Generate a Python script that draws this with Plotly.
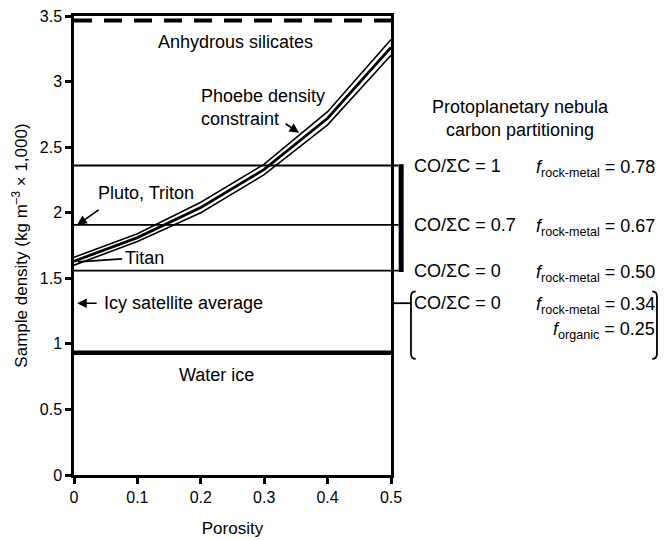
import plotly.graph_objects as go

# ---- data ----
porosity = [0, 0.1, 0.2, 0.3, 0.4, 0.5]
phoebe_upper = [1.66, 1.84, 2.08, 2.37, 2.77, 3.32]
phoebe_mid = [1.63, 1.81, 2.04, 2.33, 2.72, 3.26]
phoebe_lower = [1.60, 1.78, 2.00, 2.29, 2.67, 3.20]

anhydrous_silicates = 3.465
water_ice = 0.933
co_levels = [2.36, 1.907, 1.558]          # CO/ΣC = 1, 0.7, 0
icy_satellite_avg = 1.31
titan_density = 1.625

co_labels = ["CO/ΣC = 1", "CO/ΣC = 0.7", "CO/ΣC = 0"]
f_rock_labels = ["0.78", "0.67", "0.50"]
lower_co_label = "CO/ΣC = 0"
lower_f_rock = "0.34"
lower_f_org = "0.25"

xticks = [0, 0.1, 0.2, 0.3, 0.4, 0.5]
xticktext = ["0", "0.1", "0.2", "0.3", "0.4", "0.5"]
yticks = [0, 0.5, 1, 1.5, 2, 2.5, 3, 3.5]
yticktext = ["0", "0.5", "1", "1.5", "2", "2.5", "3", "3.5"]

FONT = "Liberation Sans, Arial, sans-serif"
AF = 18

fig = go.Figure()
for ys, w in [(phoebe_upper, 1.6), (phoebe_mid, 2.8), (phoebe_lower, 1.6)]:
    fig.add_trace(go.Scatter(x=porosity, y=ys, mode="lines",
                             line=dict(color="black", width=w), showlegend=False,
                             hoverinfo="skip"))

shapes = []
# anhydrous silicates dashed line
shapes.append(dict(type="line", xref="x", yref="y", x0=0, x1=0.5,
                   y0=anhydrous_silicates, y1=anhydrous_silicates,
                   line=dict(color="black", width=4, dash="18px,12px")))
# water ice
shapes.append(dict(type="line", xref="x", yref="y", x0=0, x1=0.5,
                   y0=water_ice, y1=water_ice, line=dict(color="black", width=4.5)))
# CO levels extend past the frame to the bar
for v in co_levels:
    shapes.append(dict(type="line", xref="paper", yref="y", x0=0, x1=1.024,
                       y0=v, y1=v, line=dict(color="black", width=1.8)))
shapes.append(dict(type="line", xref="paper", yref="y", x0=1.032, x1=1.032,
                   y0=co_levels[2] - 0.01, y1=co_levels[0] + 0.01,
                   line=dict(color="black", width=5)))
# icy satellite tick to bracket
shapes.append(dict(type="line", xref="paper", yref="y", x0=1.0, x1=1.063,
                   y0=icy_satellite_avg, y1=icy_satellite_avg,
                   line=dict(color="black", width=1.8)))
# brackets
shapes.append(dict(type="path", xref="paper", yref="y",
                   path="M 1.078,1.40 Q 1.063,1.40 1.063,1.36 L 1.063,0.925 Q 1.063,0.885 1.078,0.885",
                   line=dict(color="black", width=1.8)))
shapes.append(dict(type="path", xref="paper", yref="y",
                   path="M 1.824,1.40 Q 1.839,1.40 1.839,1.36 L 1.839,0.925 Q 1.839,0.885 1.824,0.885",
                   line=dict(color="black", width=1.8)))
# Titan leader
shapes.append(dict(type="line", xref="x", yref="y", x0=0.006, y0=titan_density,
                   x1=0.076, y1=1.648, line=dict(color="black", width=1.6)))

ann = []
def txt(x, y, t, xref="x", xanchor="left", size=AF, align="left"):
    ann.append(dict(x=x, y=y, xref=xref, yref="y", text=t, showarrow=False,
                    xanchor=xanchor, yanchor="middle", align=align,
                    font=dict(family=FONT, size=size, color="black")))

txt(0.255, 3.30, "Anhydrous silicates", xanchor="center")
txt(0.224, 0.763, "Water ice", xanchor="center")
txt(0.197, 2.80, "Phoebe density<br>constraint")
txt(0.035, 2.15, "Pluto, Triton")
txt(0.077, 1.655, "Titan")
txt(0.044, icy_satellite_avg, "Icy satellite average")
txt(1.407, 2.72, "Protoplanetary nebula<br>carbon partitioning", xref="paper",
    xanchor="center", align="center")

for lab, v, f in zip(co_labels, co_levels, f_rock_labels):
    txt(1.067, v, lab, xref="paper")
    txt(1.838, v - 0.02, "<i>f</i><sub>rock-metal</sub> = " + f, xref="paper", xanchor="right")
txt(1.067, icy_satellite_avg, lower_co_label, xref="paper")
txt(1.838, icy_satellite_avg - 0.02, "<i>f</i><sub>rock-metal</sub> = " + lower_f_rock,
    xref="paper", xanchor="right")
txt(1.838, 1.10, "<i>f</i><sub>organic</sub> = " + lower_f_org, xref="paper", xanchor="right")

# arrows
def arrow(x, y, ax, ay):
    ann.append(dict(x=x, y=y, xref="x", yref="y", ax=ax, ay=ay, text="",
                    showarrow=True, arrowhead=2, arrowsize=1.2, arrowwidth=1.6,
                    arrowcolor="black", standoff=0))
arrow(0.005, 1.907, 23, -16)
arrow(0.005, icy_satellite_avg, 21, 0)
arrow(0.355, 2.61, -15, -10)

fig.update_layout(
    width=665, height=540,
    margin=dict(l=74, r=274, t=16, b=65, autoexpand=False),
    paper_bgcolor="white", plot_bgcolor="white",
    font=dict(family=FONT, size=16, color="black"),
    shapes=shapes, annotations=ann, showlegend=False,
    xaxis=dict(range=[0, 0.5], tickvals=xticks, ticktext=xticktext, automargin=False,
               showgrid=False, zeroline=False, showline=True, linecolor="black",
               linewidth=2.5, mirror=True, ticks="outside", ticklen=6, tickwidth=2.5,
               tickcolor="black", tickfont=dict(size=16),
               title=dict(text="Porosity", font=dict(size=17), standoff=18)),
    yaxis=dict(range=[0, 3.5], tickvals=yticks, ticktext=yticktext, automargin=False,
               showgrid=False, zeroline=False, showline=True, linecolor="black",
               linewidth=2.5, mirror=True, ticks="outside", ticklen=6, tickwidth=2.5,
               tickcolor="black", tickfont=dict(size=16),
               title=dict(text="Sample density (kg m<sup>–3</sup> × 1,000)",
                          font=dict(size=17), standoff=8)),
)

fig.write_html("out.html", config={"displayModeBar": False},
               post_script="document.body.style.margin='0';document.body.style.padding='0';")
